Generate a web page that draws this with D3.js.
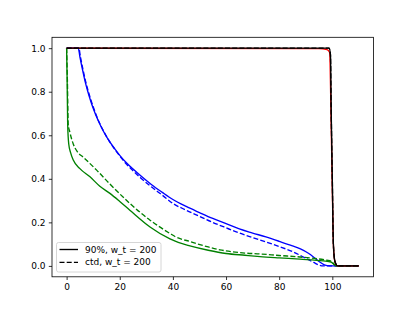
<!DOCTYPE html>
<html>
<head>
<meta charset="utf-8">
<script src="https://cdn.jsdelivr.net/npm/d3@7.9.0/dist/d3.min.js"></script>
<style>
  body { margin: 0; background: #fff; }
  text { font-family: "DejaVu Sans", sans-serif; }
</style>
</head>
<body>
<svg id="chart" width="415" height="311"></svg>
<script>
// [x, y] pairs
const blueSolid = [[0,1],[4.4,1],[5,0.96],[6,0.9],[7,0.845],[8,0.8],[9,0.76],[10,0.724],[12,0.664],
  [14,0.615],[16,0.574],[18,0.54],[20,0.508],[22.5,0.474],[25,0.445],[28,0.413],[32,0.373],[36,0.338],
  [40,0.305],[45,0.273],[50,0.245],[55,0.218],[60,0.194],[65,0.17],[70,0.151],[75,0.133],[80,0.113],
  [85,0.092],[88,0.078],[91,0.058],[93,0.04],[95,0.02],[97,0.005],[99,0],[110,0]];
const blueDashed = [[0,1],[4.6,1],[5.2,0.96],[6.2,0.9],[7.2,0.845],[8.2,0.8],[9.2,0.76],[10.2,0.724],
  [12.1,0.664],[14.1,0.615],[16,0.574],[18,0.538],[20,0.505],[22.5,0.468],[25,0.437],[28,0.403],[32,0.362],
  [36,0.325],[40,0.287],[45,0.256],[50,0.228],[55,0.2],[60,0.175],[65,0.151],[70,0.13],[75,0.11],
  [80,0.089],[85,0.066],[90,0.035],[93,0.016],[95,0.004],[96.5,0],[110,0]];
const greenSolid = [[0,1],[0.2,0.85],[0.4,0.65],[0.8,0.56],[1.5,0.52],[2.5,0.486],[5,0.447],[8.8,0.409],
  [12.5,0.366],[16.3,0.333],[20,0.296],[23.8,0.256],[31.4,0.179],[38.9,0.124],[42,0.108],[46.4,0.092],
  [53.3,0.072],[60,0.057],[67.1,0.049],[72.8,0.043],[80,0.037],[87.8,0.031],[96.6,0.023],[99.5,0.018],
  [100.5,0.008],[101.5,0],[110,0]];
const greenDashed = [[0,1],[0.3,0.85],[0.6,0.65],[1.2,0.615],[2.5,0.56],[4,0.525],[6.2,0.5],[11.3,0.44],
  [16.3,0.376],[23.8,0.287],[31.4,0.21],[38.9,0.149],[40.8,0.135],[46.4,0.112],[53.3,0.087],[57.7,0.074],
  [67.1,0.059],[72.8,0.055],[80,0.048],[87.8,0.041],[97.9,0.026],[99.5,0.022],[100.5,0.01],[101.5,0],[110,0]];
const redSolid = [[0,1],[95,0.998],[98,0.993],[99,0.98],[99.5,0.7],[100,0.35],[100.5,0.07],[101.2,0.01],[102,0],[110,0]];
const blackSolid = [[0,1],[98.8,1],[99.3,0.97],[99.6,0.7],[100,0.4],[100.4,0.1],[101,0.02],[102,0],[110,0]];
const blackDashed = blackSolid;

const xTicks = [0, 20, 40, 60, 80, 100];
const yTicks = [0.0, 0.2, 0.4, 0.6, 0.8, 1.0];
const legendLabels = ["90%, w_t = 200", "ctd, w_t = 200"];

const series = [
  { data: blueSolid, color: "#0000ff", dash: null },
  { data: blueDashed, color: "#0000ff", dash: "5,2.2" },
  { data: greenSolid, color: "#008000", dash: null },
  { data: greenDashed, color: "#008000", dash: "5,2.2" },
  { data: redSolid, color: "#ff0000", dash: null },
  { data: blackSolid, color: "#000000", dash: null },
  { data: blackDashed, color: "#000000", dash: "5,2.2" },
];

const mLeft = 52, mRight = 373.5, mTop = 37.3, mBottom = 276.8;

const x = d3.scaleLinear().domain([-5.5, 115.5]).range([mLeft, mRight]);
const y = d3.scaleLinear().domain([-0.05, 1.05]).range([mBottom, mTop]);

const svg = d3.select("#chart");

svg.append("defs").append("clipPath").attr("id", "clip")
  .append("rect").attr("x", mLeft).attr("y", mTop)
  .attr("width", mRight - mLeft).attr("height", mBottom - mTop);

let line = d3.line()
  .x((d) => x(d[0]))
  .y((d) => y(d[1]))
  .curve(d3.curveMonotoneX);

const plot = svg.append("g").attr("clip-path", "url(#clip)");
series.forEach((s) => {
  plot.append("path")
    .attr("d", line(s.data))
    .attr("fill", "none")
    .attr("stroke", s.color)
    .attr("stroke-width", 1.35)
    .attr("stroke-dasharray", s.dash);
});

// axes
const xAxis = svg.append("g")
  .attr("transform", `translate(0,${mBottom})`)
  .call(d3.axisBottom(x).tickValues(xTicks).tickSize(3.2).tickPadding(3.2).tickFormat(d3.format("d")));
const yAxis = svg.append("g")
  .attr("transform", `translate(${mLeft},0)`)
  .call(d3.axisLeft(y).tickValues(yTicks).tickSize(3.2).tickPadding(3.2).tickFormat(d3.format(".1f")));

[xAxis, yAxis].forEach((a) => {
  a.select(".domain").remove();
  a.selectAll("line").attr("stroke", "#000").attr("stroke-width", 0.8);
  a.selectAll("text").attr("font-size", 9).attr("fill", "#000")
    .style("font-family", "DejaVu Sans, sans-serif");
});

svg.append("rect")
  .attr("x", mLeft).attr("y", mTop)
  .attr("width", mRight - mLeft).attr("height", mBottom - mTop)
  .attr("fill", "none").attr("stroke", "#000").attr("stroke-width", 0.8);

// legend
const legend = svg.append("g");
legend.append("rect")
  .attr("x", 56.5).attr("y", 242.5).attr("width", 104.5).attr("height", 29.5)
  .attr("rx", 2).attr("fill", "#fff").attr("fill-opacity", 0.8)
  .attr("stroke", "#cccccc").attr("stroke-width", 0.8);

legendLabels.forEach((label, i) => {
  const ly = 249.5 + i * 12.8;
  legend.append("line")
    .attr("x1", 59.5).attr("x2", 78).attr("y1", ly).attr("y2", ly)
    .attr("stroke", "#000").attr("stroke-width", 1.35)
    .attr("stroke-dasharray", i === 1 ? "5,2.2" : null);
  legend.append("text")
    .attr("x", 85).attr("y", ly).attr("dy", "0.35em")
    .attr("font-size", 9).attr("fill", "#000")
    .text(label);
});
</script>
</body>
</html>
